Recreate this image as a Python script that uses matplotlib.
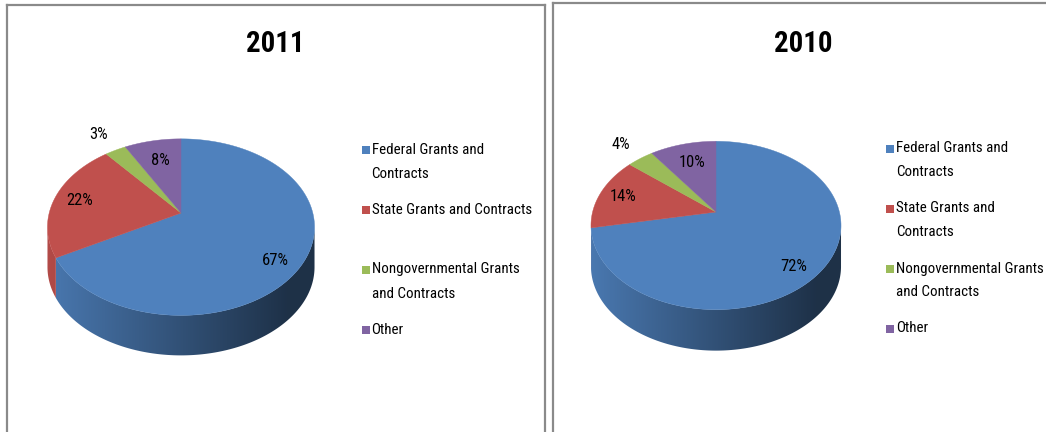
import os
import numpy as np
import matplotlib
matplotlib.use("Agg")
import matplotlib.pyplot as plt
from matplotlib.patches import Polygon, Rectangle
import matplotlib.colors as mcolors
import matplotlib.font_manager as fm
from matplotlib.textpath import TextPath

# ---------------- data ----------------
categories = ["Federal Grants and Contracts", "State Grants and Contracts",
              "Nongovernmental Grants and Contracts", "Other"]
values_2011 = [67, 22, 3, 8]
values_2010 = [72, 14, 4, 10]
titles = ["2011", "2010"]
legend_labels_2011 = ["Federal Grants and\nContracts", "State Grants and Contracts",
                      "Nongovernmental Grants\nand Contracts", "Other"]
legend_labels_2010 = ["Federal Grants and\nContracts", "State Grants and\nContracts",
                      "Nongovernmental Grants\nand Contracts", "Other"]
colors = ["#4F81BD", "#C0504D", "#9BBB59", "#8064A2"]

DPI = 100


# ---------------- fonts: prefer a narrow face (Calibri-like proportions) ----
def find_font(keys, bold):
    bad = ["italic", "oblique", "light", "medium", "semi", "extra", "black",
           "thin"]
    for key in keys:
        for f in fm.fontManager.ttflist:
            name = os.path.basename(f.fname).lower()
            if key.lower() not in name:
                continue
            if ("bold" in name) != bold:
                continue
            if any(b in name for b in bad):
                continue
            return f.fname
    return None


keys = ["LiberationSansNarrow", "RobotoCondensed", "OpenSans_Condensed",
        "OpenSansCondensed", "OpenSans-Condensed", "NotoSans-Condensed",
        "DejaVuSansCondensed", "Condensed", "Narrow"]
reg_path = find_font(keys, bold=False)
bold_path = find_font(keys, bold=True)


def make_fp(path, bold):
    if path:
        return fm.FontProperties(fname=path)
    return fm.FontProperties(family=["Liberation Sans", "DejaVu Sans"],
                             weight="bold" if bold else "normal")


fp_reg = make_fp(reg_path, False)
fp_lbl = make_fp(reg_path, False)
fp_bold = make_fp(bold_path, True)


def fit_size(fp, text, target_px):
    tp = TextPath((0, 0), text, size=100, prop=fp)
    w = tp.get_extents().width
    return target_px * 72.0 / DPI * 100.0 / w


fp_reg.set_size(fit_size(fp_reg, "Federal Grants and", 110))
fp_lbl.set_size(fit_size(fp_lbl, "67%", 25))
fp_bold.set_size(fit_size(fp_bold, "2011", 53))

fig = plt.figure(figsize=(10.46, 4.32), dpi=DPI)
ax = fig.add_axes([0, 0, 1, 1])
ax.axis("off")

# panel layouts (pixel space)
panels = [
    dict(values=values_2011, title=titles[0], labels=legend_labels_2011,
         cx=181, cy=213, A=131.8, K=86, D=40, p=0.16,
         title_xy=(275, 44), leg_sq_x=362, leg_tx=371.5, leg_y0=149.5,
         frame=dict(x0=7, x1=545, y0=5, right=True)),
    dict(values=values_2010, title=titles[1], labels=legend_labels_2010,
         cx=716, cy=212, A=123.4, K=82, D=41, p=0.16,
         title_xy=(803, 43.5), leg_sq_x=886, leg_tx=896.5, leg_y0=148.5,
         frame=dict(x0=553, x1=1046, y0=3, right=False)),
]


def shade(color, f):
    r, g, b = mcolors.to_rgb(color)
    return np.clip(np.array([r * f, g * f, b * f]), 0, 1)


for P in panels:
    vals = np.array(P["values"], dtype=float)
    frac = vals / vals.sum()
    cum = np.concatenate([[0], np.cumsum(frac)])
    cx, cy, A, K, D, p = P["cx"], P["cy"], P["A"], P["K"], P["D"], P["p"]

    def proj(u, v):
        w = 1 + p * v
        return cx + A * u / w, cy - K * v / w

    # slice angles (degrees, math convention), clockwise from 12 o'clock
    starts = 90 - cum[:-1] * 360
    ends = 90 - cum[1:] * 360

    # ---- side wall: one gradient-filled polygon per visible slice part ----
    tmin = np.rad2deg(np.pi + np.arcsin(p))
    tmax = np.rad2deg(2 * np.pi - np.arcsin(p))
    xl = proj(np.cos(np.deg2rad(tmin)), np.sin(np.deg2rad(tmin)))[0]
    xr = proj(np.cos(np.deg2rad(tmax)), np.sin(np.deg2rad(tmax)))[0]
    ncol = 300
    svals = np.linspace(0, 1, ncol)
    fvals = 0.93 - 0.55 * np.minimum(1.0, svals / 0.9)
    for k in range(len(vals)):
        lo, hi = ends[k] % 360, starts[k] % 360
        if hi <= lo:
            hi += 360
        for shift in (-360, 0, 360):
            a0 = max(lo + shift, tmin)
            a1 = min(hi + shift, tmax)
            if a1 <= a0:
                continue
            tt = np.deg2rad(np.linspace(a0, a1, 200))
            xs, ys = proj(np.cos(tt), np.sin(tt))
            pts = list(zip(xs, ys)) + list(zip(xs[::-1], ys[::-1] + D))
            poly = Polygon(pts, closed=True, facecolor="none",
                           edgecolor="none")
            ax.add_patch(poly)
            img = np.array([[shade(colors[k], f) for f in fvals]])
            im = ax.imshow(img, extent=(xl, xr, cy + K / (1 - p) + D + 2,
                                        cy - 2),
                           aspect="auto", interpolation="bilinear",
                           zorder=1)
            im.set_clip_path(poly)

    # ---- top face ----
    for k in range(len(vals)):
        tt = np.deg2rad(np.linspace(starts[k], ends[k], 200))
        xs, ys = proj(np.cos(tt), np.sin(tt))
        pts = [(cx, cy)] + list(zip(xs, ys))
        ax.add_patch(Polygon(pts, closed=True, facecolor=colors[k],
                             edgecolor=colors[k], linewidth=0.3,
                             joinstyle="round", zorder=2))

    # ---- data labels ----
    for k in range(len(vals)):
        pct = vals[k]
        mid = 0.5 * (starts[k] + ends[k])
        if pct < 5:
            r = 1.3
        elif pct < 12:
            r = 0.7
        elif pct > 50:
            r, mid = 0.83, mid - 7
        else:
            r = 0.8
        mid = np.deg2rad(mid)
        lx, ly = proj(r * np.cos(mid), r * np.sin(mid))
        ax.text(lx, ly, f"{int(round(pct))}%", ha="center", va="center",
                fontproperties=fp_lbl, color="black", zorder=5)

    # ---- title ----
    ax.text(P["title_xy"][0], P["title_xy"][1], P["title"], ha="center",
            va="center", fontproperties=fp_bold, color="black", zorder=5)

    # ---- legend ----
    for k, lab in enumerate(P["labels"]):
        y = P["leg_y0"] + k * 60
        ax.add_patch(Rectangle((P["leg_sq_x"], y - 4), 7.5, 8,
                               facecolor=colors[k], edgecolor="none",
                               zorder=5))
        for j, line in enumerate(lab.split("\n")):
            ax.text(P["leg_tx"], y + j * 24, line, ha="left", va="center",
                    fontproperties=fp_reg, color="black", zorder=5)

    # ---- frame ----
    fr = P["frame"]
    kw = dict(color="#8a8a8a", linewidth=1.6, solid_capstyle="projecting",
              zorder=6)
    ax.plot([fr["x0"], fr["x0"]], [fr["y0"], 440], **kw)
    ax.plot([fr["x0"], fr["x1"]], [fr["y0"], fr["y0"]], **kw)
    if fr["right"]:
        ax.plot([fr["x1"], fr["x1"]], [fr["y0"], 440], **kw)

ax.set_xlim(0, 1046)
ax.set_ylim(432, 0)
fig.savefig("out.png", dpi=DPI)
